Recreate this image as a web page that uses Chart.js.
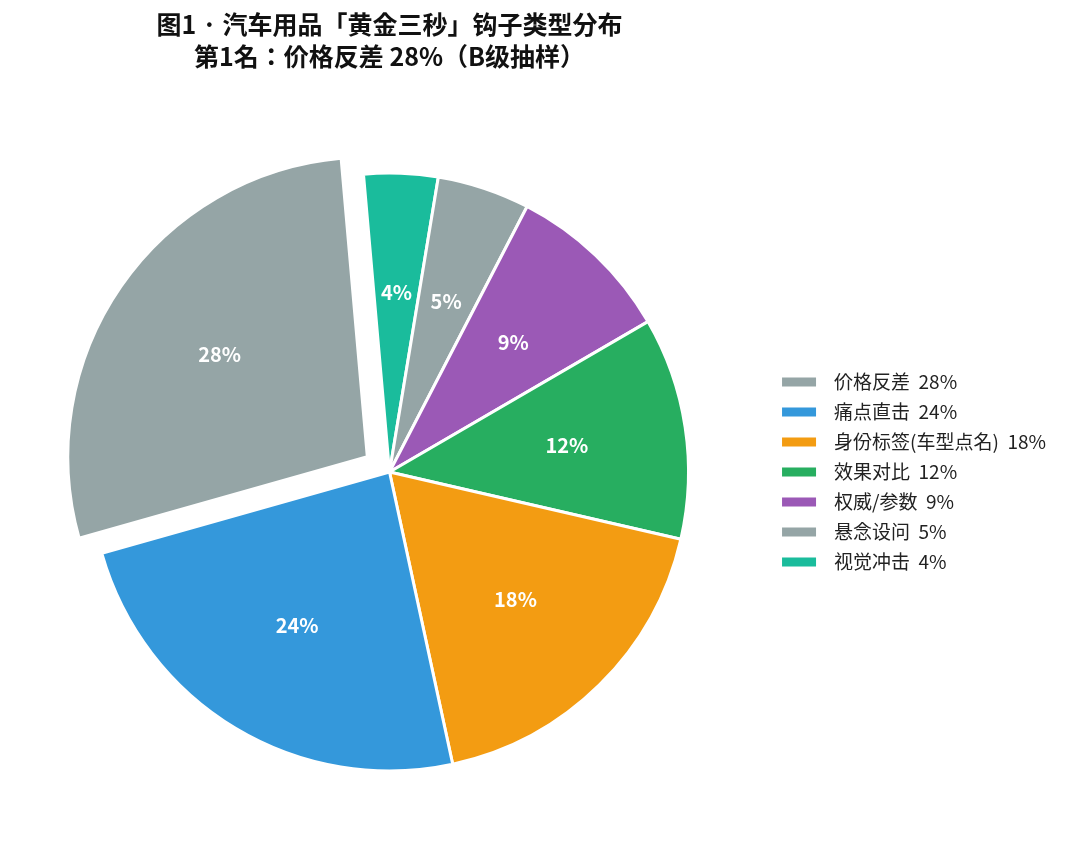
<!DOCTYPE html>
<html>
<head>
<meta charset="utf-8">
<script src="https://cdn.jsdelivr.net/npm/chart.js@4.4.1/dist/chart.umd.min.js"></script>
<style>
  html, body { margin: 0; padding: 0; background: #fff; }
  canvas { display: block; }
</style>
</head>
<body>
<canvas id="grafico" width="1066" height="861"></canvas>
<script>
// --- datos ---
const tiposGancho = ['价格反差', '痛点直击', '身份标签(车型点名)', '效果对比', '权威/参数', '悬念设问', '视觉冲击'];
const porcentajes = [28, 24, 18, 12, 9, 5, 4];
const coloresSector = ['#95a5a6', '#3498db', '#f39c12', '#27ae60', '#9b59b6', '#95a5a6', '#1abc9c'];
const destacado = [true, false, false, false, false, false, false];
const titulo = ['图1 · 汽车用品「黄金三秒」钩子类型分布', '第1名：价格反差 28%（B级抽样）'];

const fuente = '"Noto Sans CJK JP", "Noto Sans CJK SC", "Noto Sans", sans-serif';

// Chart.js dibuja en sentido horario, la referencia va al revés
const rev = arr => arr.slice().reverse();
const etiquetas = tiposGancho.map((t, i) => `${t}  ${porcentajes[i]}%`);

// etiquetas de porcentaje dentro de cada sector (pctdistance 0.6)
const etiquetasSector = {
    id: 'etiquetasSector',
    afterDatasetsDraw(chart) {
        const {ctx} = chart;
        const meta = chart.getDatasetMeta(0);
        const valores = chart.data.datasets[0].data;
        ctx.save();
        ctx.fillStyle = '#ffffff';
        ctx.font = `bold 20px ${fuente}`;
        ctx.textAlign = 'center';
        ctx.textBaseline = 'middle';
        meta.data.forEach((arc, i) => {
            const {x, y, startAngle, endAngle, outerRadius} = arc.getProps(['x', 'y', 'startAngle', 'endAngle', 'outerRadius'], true);
            const medio = (startAngle + endAngle) / 2;
            const desp = (arc.options.offset || 0) / 4;
            const r = outerRadius * 0.6 + desp;
            ctx.fillText(valores[i] + '%', x + Math.cos(medio) * r, y + Math.sin(medio) * r);
        });
        ctx.restore();
    }
};

new Chart(document.getElementById('grafico'), {
    type: 'pie',
    data: {
        labels: rev(etiquetas),
        datasets: [{
            data: rev(porcentajes),
            backgroundColor: rev(coloresSector),
            borderColor: '#ffffff',
            borderWidth: 3,
            hoverOffset: 0,
            offset: rev(destacado).map(d => d ? 108 : 0)
        }]
    },
    options: {
        responsive: false,
        animation: false,
        rotation: -5,
        radius: 299,
        layout: { padding: { left: 8, right: 10, top: 0, bottom: 12 } },
        plugins: {
            title: {
                display: true,
                text: titulo,
                fullSize: false,
                color: '#111111',
                font: { family: fuente, size: 25, weight: 'bold', lineHeight: 1.3 },
                padding: { top: 8, bottom: 22 }
            },
            legend: {
                position: 'right',
                fullSize: false,
                reverse: true,
                labels: {
                    boxWidth: 34,
                    boxHeight: 9,
                    padding: 11,
                    color: '#222222',
                    font: { family: fuente, size: 19 },
                    generateLabels(chart) {
                        const base = Chart.overrides.pie.plugins.legend.labels.generateLabels(chart);
                        return base.map(l => ({ ...l, text: '  ' + l.text, lineWidth: 0 }));
                    }
                }
            },
            tooltip: { enabled: false }
        }
    },
    plugins: [etiquetasSector]
});
</script>
</body>
</html>
